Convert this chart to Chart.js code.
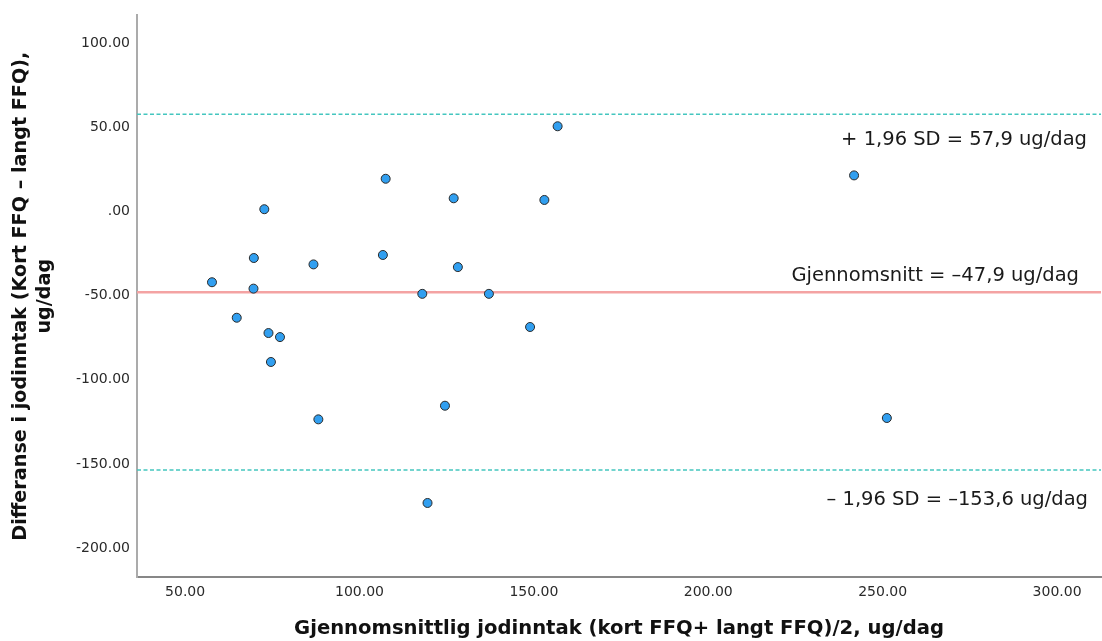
<!DOCTYPE html>
<html>
<head>
<meta charset="utf-8">
<script src="https://cdn.jsdelivr.net/npm/chart.js@4.4.1/dist/chart.umd.min.js"></script>
<style>
  html, body { margin: 0; padding: 0; background: #ffffff; }
  #wrap { width: 1102px; height: 641px; }
</style>
</head>
<body>
<div id="wrap"><canvas id="ba" width="1102" height="641"></canvas></div>
<script>
// Bland–Altman: mean of the two questionnaires vs. their difference (ug/dag)
const meanIntake = [57.7, 72.7, 69.7, 69.6, 86.8, 107.5, 106.7, 64.8, 73.9, 77.2, 74.6, 88.2,
                    118.0, 156.8, 127.0, 153.0, 128.2, 137.1, 124.5, 119.5, 148.9, 241.8, 251.2];
const diffIntake = [-42.0, 1.4, -27.6, -45.8, -31.4, 19.5, -25.8, -63.1, -72.2, -74.6, -89.4, -123.5,
                    -48.9, 50.7, 7.9, 6.9, -33.0, -48.9, -115.4, -173.2, -68.6, 21.5, -122.7];

// Agreement statistics
const meanDiff = -47.9;
const upperLimit = 57.9;
const lowerLimit = -153.6;
const limitLabels = ['+ 1,96 SD = 57,9 ug/dag', 'Gjennomsnitt = \u201347,9 ug/dag', '\u2013 1,96 SD = \u2013153,6 ug/dag'];

// Axes
const xRange = [36.2, 312.6];
const yRange = [-217.2, 116.6];
const xTickValues = [50, 100, 150, 200, 250, 300];
const xTickLabels = ['50.00', '100.00', '150.00', '200.00', '250.00', '300.00'];
const yTickValues = [100, 50, 0, -50, -100, -150, -200];
const yTickLabels = ['100.00', '50.00', '.00', '-50.00', '-100.00', '-150.00', '-200.00'];
const xTitle = 'Gjennomsnittlig jodinntak (kort FFQ+ langt FFQ)/2, ug/dag';
const yTitle = ['Differanse i jodinntak (Kort FFQ \u2013 langt FFQ),', 'ug/dag'];

const FONT = "'DejaVu Sans', 'Noto Sans', sans-serif";

const hLine = (y) => [{ x: xRange[0], y: y }, { x: xRange[1], y: y }];

const limitText = {
  id: 'limitText',
  afterDatasetsDraw(chart) {
    const { ctx, chartArea, scales } = chart;
    const y = scales.y;
    ctx.save();
    ctx.font = '19.5px ' + FONT;
    ctx.fillStyle = '#1a1a1a';
    ctx.textAlign = 'right';
    ctx.textBaseline = 'middle';
    ctx.fillText(limitLabels[0], chartArea.right - 14, y.getPixelForValue(upperLimit) + 26);
    ctx.fillText(limitLabels[1], chartArea.right - 22, y.getPixelForValue(meanDiff) - 16);
    ctx.fillText(limitLabels[2], chartArea.right - 13, y.getPixelForValue(lowerLimit) + 30);
    ctx.restore();
  }
};

new Chart(document.getElementById('ba'), {
  type: 'scatter',
  data: {
    datasets: [
      {
        label: 'Differanse',
        data: meanIntake.map((x, i) => ({ x: x, y: diffIntake[i] })),
        pointRadius: 4.5,
        pointHoverRadius: 4.5,
        pointBackgroundColor: '#319ff0',
        pointBorderColor: '#2b2b2b',
        pointBorderWidth: 1,
        order: 0
      },
      {
        label: 'Gjennomsnitt',
        data: hLine(meanDiff),
        showLine: true,
        pointRadius: 0,
        pointHoverRadius: 0,
        borderColor: '#f4a3a3',
        borderWidth: 2.5,
        order: 1
      },
      {
        label: '+1,96 SD',
        data: hLine(upperLimit),
        showLine: true,
        pointRadius: 0,
        pointHoverRadius: 0,
        borderColor: '#44c6bf',
        borderWidth: 1.5,
        borderDash: [4, 2.5],
        order: 1
      },
      {
        label: '-1,96 SD',
        data: hLine(lowerLimit),
        showLine: true,
        pointRadius: 0,
        pointHoverRadius: 0,
        borderColor: '#44c6bf',
        borderWidth: 1.5,
        borderDash: [4, 2.5],
        order: 1
      }
    ]
  },
  options: {
    responsive: false,
    animation: false,
    devicePixelRatio: 1,
    layout: { autoPadding: false, padding: { top: 13, right: 1, bottom: 0, left: 0 } },
    plugins: {
      legend: { display: false },
      tooltip: { enabled: false }
    },
    scales: {
      x: {
        type: 'linear',
        min: xRange[0],
        max: xRange[1],
        afterBuildTicks: (s) => { s.ticks = xTickValues.map(v => ({ value: v })); },
        afterFit: (s) => { s.height = 64; },
        grid: { display: false, drawTicks: false },
        border: { display: true, color: '#878787', width: 2 },
        ticks: {
          padding: 7,
          color: '#2a2a2a',
          font: { family: FONT, size: 14 },
          maxRotation: 0,
          callback: (v) => xTickLabels[xTickValues.indexOf(v)]
        },
        title: {
          display: true,
          text: xTitle,
          color: '#111111',
          font: { family: FONT, size: 19.6, weight: 'bold', lineHeight: 1.2 },
          padding: { top: 0, bottom: 0 }
        }
      },
      y: {
        type: 'linear',
        min: yRange[0],
        max: yRange[1],
        afterBuildTicks: (s) => { s.ticks = yTickValues.map(v => ({ value: v })); },
        afterFit: (s) => { s.width = 137; },
        grid: { display: false, drawTicks: false },
        border: { display: true, color: '#ababab', width: 2 },
        ticks: {
          padding: 7,
          color: '#2a2a2a',
          font: { family: FONT, size: 14 },
          callback: (v) => yTickLabels[yTickValues.indexOf(v)]
        },
        title: {
          display: true,
          text: yTitle,
          color: '#111111',
          font: { family: FONT, size: 19.2, weight: 'bold', lineHeight: 1.25 },
          padding: { top: 9, bottom: 0 }
        }
      }
    }
  },
  plugins: [limitText]
});
</script>
</body>
</html>
